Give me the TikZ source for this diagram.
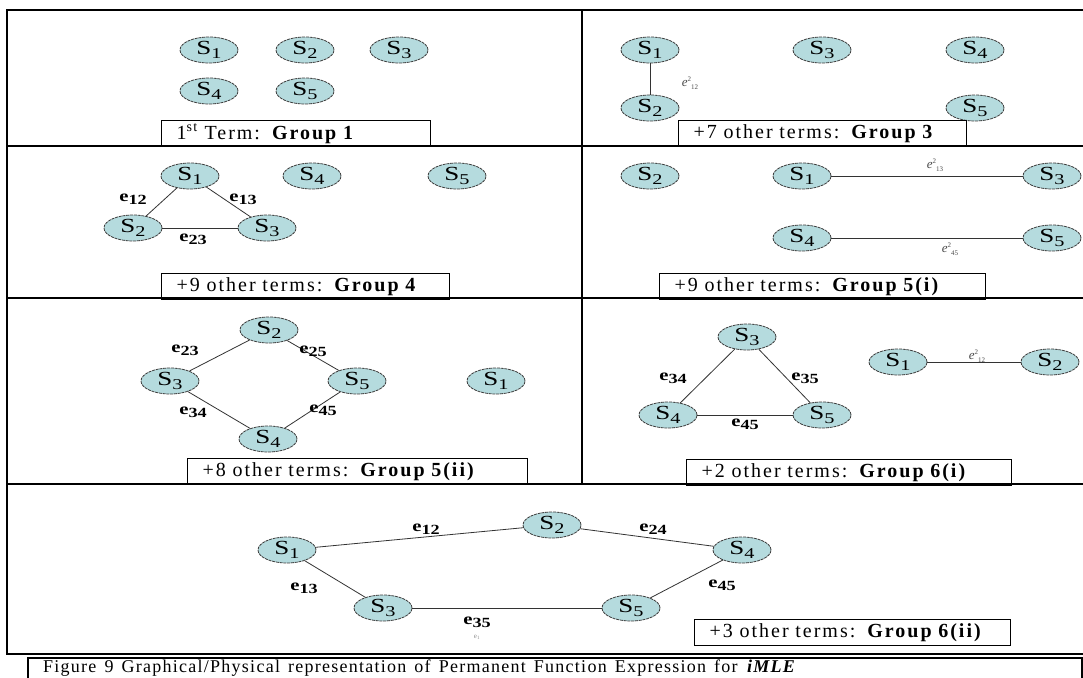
\documentclass[tikz,border=0pt]{standalone}
\usepackage{fontspec}
\usetikzlibrary{shapes.geometric}
\setmainfont{Liberation Serif}
\newfontfamily\termfont[LetterSpace=10,WordSpace=1.8]{Liberation Serif}
\newfontfamily\capfont[LetterSpace=7,WordSpace=1.4]{Liberation Serif}
\newfontfamily\sitefont[FakeStretch=1.35]{Liberation Serif}
\newfontfamily\edgefont[FakeStretch=1.3]{Liberation Serif}
\definecolor{sitefill}{RGB}{181,219,222}
\definecolor{siteline}{RGB}{60,60,60}
\newcommand{\sname}[1]{S\raisebox{-4pt}{\fontsize{15}{15}\selectfont #1}}
\newcommand{\elbl}[1]{\textbf{e\raisebox{-3pt}{\fontsize{14}{14}\selectfont #1}}}
\newcommand{\sqlbl}[1]{\textit{e}\raisebox{5pt}{\fontsize{7}{7}\selectfont 2}\raisebox{-3pt}{\fontsize{7}{7}\selectfont #1}}

\begin{document}
\begin{tikzpicture}[x=1pt,y=-1pt,
    site/.style={ellipse,draw=siteline,fill=sitefill,line width=0.8pt,dash pattern=on 3pt off 0.8pt,
        minimum width=58pt,minimum height=26pt,inner sep=0pt,font=\sitefont\fontsize{20}{22}\selectfont},
    termbox/.style={draw,line width=1.3pt,anchor=north west,minimum height=26pt,inner xsep=15pt,
        inner ysep=0pt,align=left,font=\termfont\fontsize{20}{22}\selectfont},
    elab/.style={inner sep=0pt,font=\edgefont\fontsize{16}{18}\selectfont},
    sqlab/.style={inner sep=0pt,text=black!70,font=\fontsize{13}{14}\selectfont},
    edge/.style={line width=0.8pt,draw=black!80}]
    \useasboundingbox (0,0) rectangle (1083,677);
    \fill[white] (0,0) rectangle (1083,677);

    % frame
    \draw[line width=1.3pt] (1083,10) -- (7,10) -- (7,654) -- (1083,654);
    \draw[line width=1.3pt] (7,146) -- (1083,146);
    \draw[line width=1.3pt] (7,298) -- (1083,298);
    \draw[line width=1.3pt] (7,484) -- (1083,484);
    \draw[line width=1.3pt] (582,10) -- (582,484);

    % group 1
    \node[site] (a1) at (209,50) {\sname{1}};
    \node[site] (a2) at (305,50) {\sname{2}};
    \node[site] (a3) at (399,50) {\sname{3}};
    \node[site] (a4) at (209,91) {\sname{4}};
    \node[site] (a5) at (305,91) {\sname{5}};
    \node[termbox,text width=239pt] (t1) at (161,120) {1\textsuperscript{st} Term: \textbf{Group 1}};

    % group 3
    \node[site] (b1) at (650,50) {\sname{1}};
    \node[site] (b3) at (822,50) {\sname{3}};
    \node[site] (b4) at (975,50) {\sname{4}};
    \node[site] (b2) at (650,108) {\sname{2}};
    \node[site] (b5) at (975,108) {\sname{5}};
    \draw[edge] (b1) -- (b2);
    \node[sqlab] (lb12) at (690,83) {\sqlbl{12}};
    \node[termbox,text width=258pt] (t3) at (678,120) {+7 other terms: \textbf{Group 3}};

    % group 4
    \node[site] (c1) at (190,176) {\sname{1}};
    \node[site] (c4) at (312,176) {\sname{4}};
    \node[site] (c5) at (457,176) {\sname{5}};
    \node[site] (c2) at (133,228) {\sname{2}};
    \node[site] (c3) at (267,228) {\sname{3}};
    \draw[edge] (c1) -- (c2);
    \draw[edge] (c1) -- (c3);
    \draw[edge] (c2) -- (c3);
    \node[elab] (lc12) at (133,199) {\elbl{12}};
    \node[elab] (lc13) at (243,199) {\elbl{13}};
    \node[elab] (lc23) at (193,239) {\elbl{23}};
    \node[termbox,text width=258pt] (t4) at (161,273) {+9 other terms: \textbf{Group 4}};

    % group 5(i)
    \node[site] (d2) at (650,176) {\sname{2}};
    \node[site] (d1) at (802,176) {\sname{1}};
    \node[site] (d3) at (1052,176) {\sname{3}};
    \node[site] (d4) at (802,238) {\sname{4}};
    \node[site] (d5) at (1052,238) {\sname{5}};
    \draw[edge] (d1) -- (d3);
    \draw[edge] (d4) -- (d5);
    \node[sqlab] (ld13) at (935,165) {\sqlbl{13}};
    \node[sqlab] (ld45) at (950,249) {\sqlbl{45}};
    \node[termbox,text width=296pt] (t5) at (659,273) {+9 other terms: \textbf{Group 5(i)}};

    % group 5(ii)
    \node[site] (e2) at (269,330) {\sname{2}};
    \node[site] (e3) at (170,381) {\sname{3}};
    \node[site] (e5) at (357,381) {\sname{5}};
    \node[site] (e1) at (496,381) {\sname{1}};
    \node[site] (e4) at (268,439) {\sname{4}};
    \draw[edge] (e2) -- (e3);
    \draw[edge] (e2) -- (e5);
    \draw[edge] (e3) -- (e4);
    \draw[edge] (e5) -- (e4);
    \node[elab] (le23) at (185,350) {\elbl{23}};
    \node[elab] (le25) at (313,351) {\elbl{25}};
    \node[elab] (le34) at (193,412) {\elbl{34}};
    \node[elab] (le45) at (323,410) {\elbl{45}};
    \node[termbox,text width=310pt] (t6) at (187,458) {+8 other terms: \textbf{Group 5(ii)}};

    % group 6(i)
    \node[site] (f3) at (747,337) {\sname{3}};
    \node[site] (f4) at (668,415) {\sname{4}};
    \node[site] (f5) at (822,415) {\sname{5}};
    \node[site] (f1) at (898,362) {\sname{1}};
    \node[site] (f2) at (1050,362) {\sname{2}};
    \draw[edge] (f3) -- (f4);
    \draw[edge] (f3) -- (f5);
    \draw[edge] (f4) -- (f5);
    \draw[edge] (f1) -- (f2);
    \node[elab] (lf34) at (673,378) {\elbl{34}};
    \node[elab] (lf35) at (805,378) {\elbl{35}};
    \node[elab] (lf45) at (745,424) {\elbl{45}};
    \node[sqlab] (lf12) at (977,356) {\sqlbl{12}};
    \node[termbox,text width=295pt] (t7) at (686,459) {+2 other terms: \textbf{Group 6(i)}};

    % group 6(ii)
    \node[site] (g1) at (287,550) {\sname{1}};
    \node[site] (g2) at (552,525) {\sname{2}};
    \node[site] (g4) at (742,550) {\sname{4}};
    \node[site] (g3) at (383,608) {\sname{3}};
    \node[site] (g5) at (631,608) {\sname{5}};
    \draw[edge] (g1) -- (g2);
    \draw[edge] (g2) -- (g4);
    \draw[edge] (g1) -- (g3);
    \draw[edge] (g4) -- (g5);
    \draw[edge] (g3) -- (g5);
    \node[elab] (lg12) at (426,529) {\elbl{12}};
    \node[elab] (lg24) at (653,529) {\elbl{24}};
    \node[elab] (lg13) at (304,588) {\elbl{13}};
    \node[elab] (lg45) at (722,585) {\elbl{45}};
    \node[elab] (lg35) at (477,622) {\elbl{35}};
    \node[sqlab,text=black!45,font=\fontsize{7}{8}\selectfont] (lg35b) at (477,637) {e\textsubscript{1}};
    \node[termbox,text width=286pt] (t8) at (694,619) {+3 other terms: \textbf{Group 6(ii)}};

    % caption
    \draw[line width=1.3pt] (28,680) -- (28,658) -- (1082,658) -- (1082,680);
    \node[anchor=west,inner sep=0pt,font=\capfont\fontsize{18}{20}\selectfont] (cap) at (43,668)
        {Figure 9 Graphical/Physical representation of Permanent Function Expression for \textbf{\textit{iMLE}}};
\end{tikzpicture}
\end{document}
